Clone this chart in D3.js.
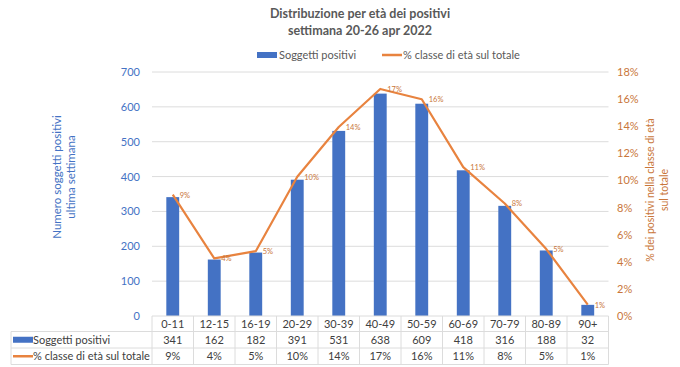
<!DOCTYPE html>
<html>
<head>
<meta charset="utf-8">
<script src="https://cdn.jsdelivr.net/npm/d3@7"></script>
<style>
	html, body { margin: 0; padding: 0; background: #fff; }
	body { width: 680px; height: 367px; overflow: hidden; }
	text { font-family: Lato, 'Open Sans', sans-serif; }
</style>
</head>
<body>
<div id="chart"></div>
<script>
//data
const categories = ['0-11', '12-15', '16-19', '20-29', '30-39', '40-49', '50-59', '60-69', '70-79', '80-89', '90+'];
const positivi = [341, 162, 182, 391, 531, 638, 609, 418, 316, 188, 32];
const percentuali = [8.95, 4.25, 4.78, 10.27, 13.94, 16.75, 15.99, 10.98, 8.3, 4.94, 0.84];
const leftTicks = [0, 100, 200, 300, 400, 500, 600, 700];
const rightTicks = [0, 2, 4, 6, 8, 10, 12, 14, 16, 18];

const blue = '#4472c4';
const orange = '#e8833f';
const orangeText = '#c9763a';
const grey = '#595959';
const gridColor = '#dcdcdc';

render();

function render() {
	const width = 680;
	const height = 367;
	const left = 152;
	const right = 608.5;
	const top = 72;
	const bottom = 316;
	const rowH = 16.5;

	const svg = d3.select('#chart').append('svg')
		.attr('width', width)
		.attr('height', height);

	const x = d3.scaleBand().domain(categories).range([left, right]).padding(0);
	const y = d3.scaleLinear().domain([0, 700]).range([bottom, top]);
	const y2 = d3.scaleLinear().domain([0, 18]).range([bottom, top]);
	const pct = (d) => d3.format('.0f')(d) + '%';

	//title
	svg.append('text')
		.attr('x', 360).attr('y', 18)
		.attr('text-anchor', 'middle')
		.style('font-size', '12.5px').style('font-weight', 'bold').style('fill', grey)
		.text('Distribuzione per età dei positivi');
	svg.append('text')
		.attr('x', 360).attr('y', 35)
		.attr('text-anchor', 'middle')
		.style('font-size', '12.5px').style('font-weight', 'bold').style('fill', grey)
		.text('settimana 20-26 apr 2022');

	//legend
	const legend = svg.append('g').attr('transform', translation(0, 55));
	legend.append('rect').attr('x', 257).attr('y', -3).attr('width', 20).attr('height', 6).style('fill', blue);
	legend.append('text').attr('x', 279).attr('y', 4)
		.style('font-size', '11px').style('fill', grey).text('Soggetti positivi');
	legend.append('line').attr('x1', 382).attr('x2', 402).attr('y1', 0).attr('y2', 0)
		.style('stroke', orange).style('stroke-width', 2.5);
	legend.append('text').attr('x', 403).attr('y', 4)
		.style('font-size', '11px').style('fill', grey).text('% classe di età sul totale');

	//grid
	svg.append('g').selectAll('line').data(leftTicks.slice(1)).join('line')
		.attr('x1', left).attr('x2', right)
		.attr('y1', (d) => y(d)).attr('y2', (d) => y(d))
		.style('stroke', gridColor).style('stroke-width', 1);

	//left axis labels
	svg.append('g').selectAll('text').data(leftTicks).join('text')
		.attr('x', 140).attr('y', (d) => y(d) + 4)
		.attr('text-anchor', 'end')
		.style('font-size', '11px').style('fill', blue)
		.text((d) => d);

	//right axis labels
	svg.append('g').selectAll('text').data(rightTicks).join('text')
		.attr('x', 617).attr('y', (d) => y2(d) + 4)
		.style('font-size', '11px').style('fill', orangeText)
		.text((d) => d + '%');

	//axis titles
	const lt = svg.append('text')
		.attr('transform', translation(64, 177) + ' rotate(-90)')
		.attr('text-anchor', 'middle')
		.style('font-size', '11.5px').style('fill', blue);
	lt.append('tspan').attr('x', 0).attr('dy', -3).text('Numero soggetti positivi');
	lt.append('tspan').attr('x', 0).attr('dy', 14).text('ultima settimana');

	const rt = svg.append('text')
		.attr('transform', translation(657, 190) + ' rotate(-90)')
		.attr('text-anchor', 'middle')
		.style('font-size', '10.5px').style('fill', orangeText);
	rt.append('tspan').attr('x', 0).attr('dy', -3).text('% dei positivi nella classe di età');
	rt.append('tspan').attr('x', 0).attr('dy', 14).text('sul totale');

	//bars
	const barW = x.bandwidth() * 0.31;
	svg.append('g').selectAll('rect').data(positivi).join('rect')
		.attr('x', (d, i) => x(categories[i]) + x.bandwidth() / 2 - barW / 2)
		.attr('y', (d) => y(d))
		.attr('width', barW)
		.attr('height', (d) => bottom - y(d))
		.style('fill', blue);

	//line
	const line = d3.line()
		.x((d, i) => x(categories[i]) + x.bandwidth() / 2)
		.y((d) => y2(d));
	svg.append('path').datum(percentuali)
		.attr('d', line)
		.style('fill', 'none').style('stroke', orange).style('stroke-width', 2.2)
		.style('stroke-linejoin', 'round');

	svg.append('g').selectAll('text').data(percentuali).join('text')
		.attr('x', (d, i) => x(categories[i]) + x.bandwidth() / 2 + 7)
		.attr('y', (d) => y2(d) + 3)
		.style('font-size', '7.5px').style('fill', orangeText)
		.text(pct);

	//table
	const table = svg.append('g');
	const rows = [bottom, bottom + rowH - 1, bottom + 2 * rowH - 1, bottom + 3 * rowH - 1];
	// horizontal lines
	table.append('line').attr('x1', left).attr('x2', right).attr('y1', rows[0]).attr('y2', rows[0])
		.style('stroke', gridColor);
	[rows[1], rows[2], rows[3]].forEach((r) => {
		table.append('line').attr('x1', 11).attr('x2', right).attr('y1', r).attr('y2', r)
			.style('stroke', gridColor);
	});
	// vertical lines
	table.selectAll('.vline').data(categories.concat(['end'])).join('line')
		.attr('class', 'vline')
		.attr('x1', (d) => d === 'end' ? right : x(d))
		.attr('x2', (d) => d === 'end' ? right : x(d))
		.attr('y1', rows[0]).attr('y2', rows[3])
		.style('stroke', gridColor);
	table.append('line').attr('x1', 11).attr('x2', 11).attr('y1', rows[1]).attr('y2', rows[3])
		.style('stroke', gridColor);

	const cellText = (data, rowIdx, fmt) => {
		table.append('g').selectAll('text').data(data).join('text')
			.attr('x', (d, i) => x(categories[i]) + x.bandwidth() / 2)
			.attr('y', (rows[rowIdx] + rows[rowIdx + 1]) / 2 + 4)
			.attr('text-anchor', 'middle')
			.style('font-size', '11px').style('fill', '#404040')
			.text(fmt);
	};
	cellText(categories, 0, (d) => d);
	cellText(positivi, 1, (d) => d);
	cellText(percentuali, 2, pct);

	// row headers
	const r1 = (rows[1] + rows[2]) / 2;
	const r2 = (rows[2] + rows[3]) / 2;
	table.append('rect').attr('x', 13).attr('y', r1 - 3).attr('width', 20).attr('height', 6).style('fill', blue);
	table.append('text').attr('x', 33).attr('y', r1 + 4)
		.style('font-size', '11px').style('fill', '#404040').text('Soggetti positivi');
	table.append('line').attr('x1', 13).attr('x2', 33).attr('y1', r2).attr('y2', r2)
		.style('stroke', orange).style('stroke-width', 2.5);
	table.append('text').attr('x', 33).attr('y', r2 + 4)
		.style('font-size', '11px').style('fill', '#404040').text('% classe di età sul totale');
}

//utils
function translation(x, y) {
	return `translate(${x}, ${y})`;
}
</script>
</body>
</html>
